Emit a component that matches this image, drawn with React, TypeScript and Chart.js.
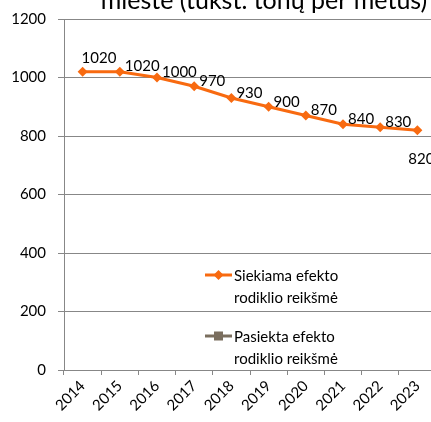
import React, { useEffect, useRef } from "react";
import { Chart, registerables } from "chart.js";

Chart.register(...registerables);

const categories = ["2014", "2015", "2016", "2017", "2018", "2019", "2020", "2021", "2022", "2023"];
const targetValues = [1020, 1020, 1000, 970, 930, 900, 870, 840, 830, 820];
const achievedValues: (number | null)[] = [null, null, null, null, null, null, null, null, null, null];
const yTickValues = [0, 200, 400, 600, 800, 1000, 1200];
const titleText = "mieste (tūkst. tonų per metus)";
const seriesNames = ["Siekiama efekto rodiklio reikšmė", "Pasiekta efekto rodiklio reikšmė"];
const legendLines = [
  ["Siekiama efekto", "rodiklio reikšmė"],
  ["Pasiekta efekto", "rodiklio reikšmė"],
];

const ORANGE = "#F86A10";
const GREY_SERIES = "#7A6E5E";
const GRID = "#878787";
const FONT = "Lato";

const titlePlugin = {
  id: "cutTitle",
  afterDraw(chart: any) {
    const ctx = chart.ctx;
    ctx.save();
    ctx.font = `25px ${FONT}`;
    ctx.fillStyle = "#000";
    ctx.textAlign = "center";
    ctx.textBaseline = "alphabetic";
    ctx.fillText(titleText, chart.chartArea.left + 200, chart.chartArea.top - 10);
    ctx.restore();
  },
};

const labelPlugin = {
  id: "valueLabels",
  afterDatasetsDraw(chart: any) {
    const ctx = chart.ctx;
    const meta = chart.getDatasetMeta(0);
    const ds = chart.data.datasets[0].data as number[];
    const n = meta.data.length;
    ctx.save();
    ctx.font = `15px ${FONT}`;
    ctx.fillStyle = "#000";
    ctx.textBaseline = "middle";
    meta.data.forEach((pt: any, i: number) => {
      let x = pt.x + 5;
      let y = pt.y - 5;
      ctx.textAlign = "left";
      if (i === 0) {
        x = pt.x - 1;
        y = pt.y - 13;
      } else if (i === n - 1) {
        ctx.textAlign = "center";
        x = pt.x + 4;
        y = pt.y + 29;
      }
      ctx.fillText(String(ds[i]), x, y);
    });
    ctx.restore();
  },
};

const legendPlugin = {
  id: "innerLegend",
  afterDraw(chart: any) {
    const ctx = chart.ctx;
    const { left, top } = chart.chartArea;
    const items = [
      { color: ORANGE, shape: "diamond", y: top + 256 },
      { color: GREY_SERIES, shape: "square", y: top + 317 },
    ];
    ctx.save();
    ctx.font = `15px ${FONT}`;
    ctx.textBaseline = "middle";
    ctx.textAlign = "left";
    items.forEach((it, idx) => {
      const x0 = left + 141;
      const x1 = left + 168;
      ctx.strokeStyle = it.color;
      ctx.lineWidth = 3;
      ctx.beginPath();
      ctx.moveTo(x0, it.y);
      ctx.lineTo(x1, it.y);
      ctx.stroke();
      ctx.fillStyle = it.color;
      const cx = (x0 + x1) / 2;
      if (it.shape === "diamond") {
        ctx.beginPath();
        ctx.moveTo(cx, it.y - 5);
        ctx.lineTo(cx + 5, it.y);
        ctx.lineTo(cx, it.y + 5);
        ctx.lineTo(cx - 5, it.y);
        ctx.closePath();
        ctx.fill();
      } else {
        ctx.fillRect(cx - 4.5, it.y - 4.5, 9, 9);
      }
      ctx.fillStyle = "#000";
      legendLines[idx].forEach((line, li) => {
        ctx.fillText(line, left + 170, it.y + 1 + li * 22);
      });
    });
    ctx.restore();
  },
};

export default function App() {
  const ref = useRef<HTMLCanvasElement | null>(null);

  useEffect(() => {
    if (!ref.current) return;
    const chart = new Chart(ref.current, {
      type: "line",
      data: {
        labels: categories,
        datasets: [
          {
            label: seriesNames[0],
            data: targetValues,
            borderColor: ORANGE,
            backgroundColor: ORANGE,
            borderWidth: 3,
            pointStyle: "rectRot",
            pointRadius: 5,
            pointBorderWidth: 0,
            tension: 0,
          },
          {
            label: seriesNames[1],
            data: achievedValues,
            borderColor: GREY_SERIES,
            backgroundColor: GREY_SERIES,
            borderWidth: 3,
            pointStyle: "rect",
            pointRadius: 5,
          },
        ],
      },
      options: {
        responsive: false,
        animation: false,
        devicePixelRatio: 1,
        layout: { padding: { left: 0, right: 9, top: 17, bottom: 0 } },
        plugins: {
          legend: { display: false },
          title: { display: false },
          tooltip: { enabled: false },
        },
        scales: {
          x: {
            offset: true,
            grid: {
              offset: true,
              drawOnChartArea: false,
              drawTicks: true,
              tickLength: 5,
              color: GRID,
            },
            border: { display: true, color: GRID, width: 1 },
            ticks: {
              maxRotation: 45,
              minRotation: 45,
              padding: 2,
              color: "#000",
              font: { family: FONT, size: 15 },
            },
            afterFit(scale: any) {
              scale.height = 52;
            },
          },
          y: {
            min: 0,
            max: 1200,
            afterBuildTicks(scale: any) {
              scale.ticks = yTickValues.map((v) => ({ value: v }));
            },
            grid: {
              color: GRID,
              drawTicks: true,
              tickLength: 6,
            },
            border: { display: true, color: GRID, width: 1 },
            ticks: {
              padding: 12,
              color: "#000",
              font: { family: FONT, size: 15 },
              callback: (v: any) => String(v),
            },
            afterFit(scale: any) {
              scale.width = 64;
            },
          },
        },
      },
      plugins: [labelPlugin, legendPlugin, titlePlugin],
    });
    return () => chart.destroy();
  }, []);

  return (
    <div style={{ position: "absolute", left: 0, top: 0, width: 431, height: 422, overflow: "hidden", background: "#fff" }}>
      <canvas
        ref={ref}
        width={445}
        height={424}
        style={{ display: "block", position: "absolute", left: 0, top: -2, width: 445, height: 424 }}
      />
    </div>
  );
}
